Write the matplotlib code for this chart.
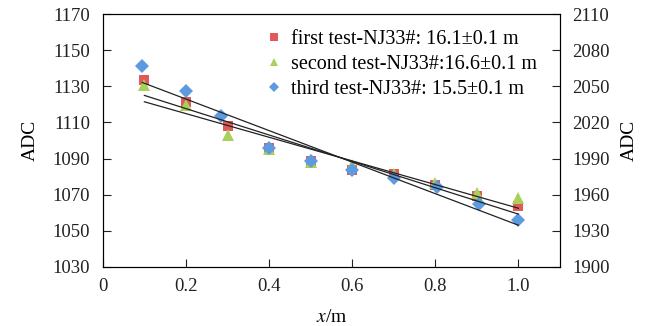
import numpy as np
import matplotlib
matplotlib.use("Agg")
import matplotlib.pyplot as plt

plt.rcParams['font.family'] = ['Liberation Serif', 'DejaVu Serif']
plt.rcParams['mathtext.fontset'] = 'stix'

x = [0.1, 0.2, 0.3, 0.4, 0.5, 0.6, 0.7, 0.8, 0.9, 1.0]
x_third = [0.095, 0.2, 0.285, 0.4, 0.5, 0.6, 0.7, 0.805, 0.905, 1.0]
first = [1133.5, 1121.5, 1108, 1096, 1088.7, 1083.5, 1081.3, 1075.2, 1069.5, 1063.8]
second = [1130.5, 1119.5, 1103, 1095.5, 1088.3, 1086.3, 1081.3, 1076.3, 1071, 1068]
third = [1141, 1127.6, 1113.6, 1096, 1088.7, 1083.5, 1079.4, 1074, 1065, 1056]

labels = ["first test-NJ33#: 16.1\u00b10.1 m",
          "second test-NJ33#:16.6\u00b10.1 m",
          "third test-NJ33#: 15.5\u00b10.1 m"]
colors = ['#E05A5A', '#A8D05A', '#5C9BE0']
markers = ['s', '^', 'D']
sizes = [7.5, 8, 7]

fig = plt.figure(figsize=(6.55, 3.26), dpi=100)
ax = fig.add_axes([0.157, 0.181, 0.698, 0.776])

series = [(x, first), (x, second), (x_third, third)]
for (xs, ys), lab, c, m, s in zip(series, labels, colors, markers, sizes):
    ax.plot(xs, ys, linestyle='none', marker=m, color=c, markersize=s,
            markeredgewidth=0, label=lab, zorder=2)
    k, b = np.polyfit(xs, ys, 1)
    xx = np.array([min(xs), max(xs)])
    ax.plot(xx, k * xx + b, color='#222222', lw=0.9, zorder=3)

ax.set_xlim(0, 1.1)
ax.set_ylim(1030, 1170)
ax.set_xticks([0, 0.2, 0.4, 0.6, 0.8, 1.0])
ax.set_xticklabels(['0', '0.2', '0.4', '0.6', '0.8', '1.0'])
ax.set_yticks(np.arange(1030, 1171, 20))
ax.tick_params(direction='in', length=6, width=0.8, labelsize=13.5, colors='#222222', pad=9)
ax.tick_params(axis='x', pad=8)
ax.set_xlabel('$x$/m', fontsize=14, labelpad=10)
ax.set_ylabel('ADC', fontsize=14, labelpad=10)
for sp in ax.spines.values():
    sp.set_linewidth(0.8)
    sp.set_color('#222222')

ax2 = ax.twinx()
ax2.set_ylim(1900, 2110)
ax2.set_yticks(np.arange(1900, 2111, 30))
ax2.tick_params(direction='in', length=6, width=0.8, labelsize=13.5, colors='#222222', pad=9)
ax2.set_ylabel('ADC', fontsize=14, rotation=90, labelpad=8)

leg = ax.legend(loc='upper right', bbox_to_anchor=(0.975, 0.985), frameon=False,
                fontsize=14.5, handletextpad=0.3, borderaxespad=0.2,
                labelspacing=0.3, handlelength=1.0, markerscale=0.7)

fig.savefig('out.png', dpi=100)
